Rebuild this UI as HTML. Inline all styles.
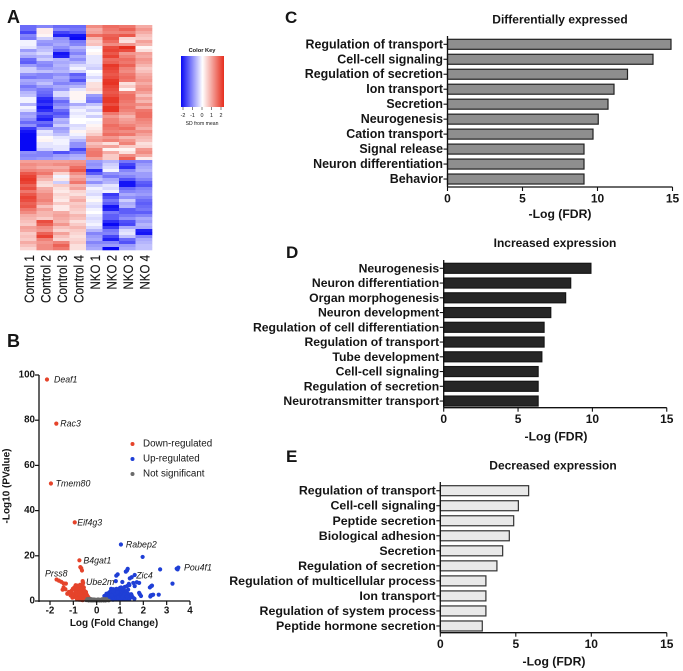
<!DOCTYPE html>
<html lang="en">
<head>
<meta charset="utf-8">
<title>Differential expression figure</title>
<style>
html,body{margin:0;padding:0;background:#fff;width:683px;height:671px;overflow:hidden}
svg{display:block;filter:blur(0.3px)}
text{font-family:"Liberation Sans",Arial,sans-serif;fill:#151515}
</style>
</head>
<body>
<svg id="fig" xmlns="http://www.w3.org/2000/svg" width="683" height="671" viewBox="0 0 683 671">
  <defs>
    <linearGradient id="keyGrad" x1="0" x2="1" y1="0" y2="0"></linearGradient>
  </defs>
  <rect width="683" height="671" fill="#fff"></rect>
  <text x="7" y="23" font-size="18" font-weight="700">A</text>
  <text x="7" y="347" font-size="18" font-weight="700">B</text>
  <text x="285" y="23" font-size="17" font-weight="700">C</text>
  <text x="286" y="258" font-size="17" font-weight="700">D</text>
  <text x="286" y="462" font-size="17" font-weight="700">E</text>
  <g id="heatmap"></g>
  <g id="colorKey"></g>
  <g id="volcano"></g>
  <g id="chartC"></g>
  <g id="chartD"></g>
  <g id="chartE"></g>
</svg>
<script>
// ---------- Panel A data ----------
const sampleNames = ["Control 1","Control 2","Control 3","Control 4","NKO 1","NKO 2","NKO 3","NKO 4"];
const control1 = [-1.2,-1.2,-1.5,-1.0,-1.1,-0.1,-0.1,-0.2,-0.8,-0.5,-0.7,-1.2,-1.3,-0.8,-0.4,-0.4,-0.9,-1.1,-0.7,-0.8,-1.1,-0.9,-0.6,
  -0.5,-0.1,-0.1,-0.6,-0.1,-0.3,-0.8,-0.7,-0.9,-1.2,-0.9,-1.6,-1.9,-2,-2,-2,-2,-2,-2,-0.9,-1,-0.9,
  0.9,1.1,1,1.2,1.6,1.8,1.9,1.8,1.5,1.7,1.3,1.6,1.8,1.7,1.5,1.6,1.3,1.1,0.8,0.7,0.6,0.5,0.9,0.8,0.5,0.6,0.5,0.8,0.6,0.4];
const control2 = [-1,0.2,0.2,0.1,-0.4,-0.8,-0.9,-0.6,-0.5,-0.3,-0.6,-0.4,-0.9,-1,-0.8,-0.5,-1,-1,-0.7,-0.5,-0.8,-1.1,-1.2,
  -1.3,-1.7,-1.8,-1.6,-1.9,-1.7,-1.3,-1.6,-1.8,-1.2,-1.4,-0.8,-0.2,-0.3,0.05,0.1,-0.2,-0.2,-0.4,-1.0,-1,-0.8,
  0.9,1,0.8,1.1,1.3,0.9,0.7,0.4,0.3,0.8,0.9,1.1,1.1,1.2,1,0.6,0.9,0.7,0.7,0.5,1.7,1.5,1.1,1,1.5,1.8,1.2,1,1.1,1.1];
const control3 = [-1.2,-1.0,-1.5,-1.8,-0.9,-0.8,-0.7,-0.9,-1.2,-1.9,-1.8,-0.6,-0.7,-0.6,-0.7,-0.6,-0.9,-0.7,-0.8,-1,-0.7,-0.8,-0.3,
  -0.3,-0.8,-1.2,-1,-0.8,-1.2,-1.4,-1.2,-0.6,-0.7,-0.4,-0.8,-0.7,-0.5,-0.2,-0.1,-0.1,-0.2,-0.2,-1.4,-0.8,-0.7,
  0.9,1.1,0.8,1,0.4,-0.1,0.2,-0.4,0.5,0.3,0.2,0.4,0.3,0.2,0.5,0.2,0.2,0.8,0.9,0.8,0.7,1,0.6,0.4,0.9,0.6,0.4,1.2,1.5,1.3];
const control4 = [-1.2,-1.1,-1.3,-1.9,-2,-1.1,-1,-0.6,-0.8,-1,-0.7,-0.9,-0.6,-0.3,-0.1,-0.4,-1.3,-1.1,-1.4,-0.9,-0.6,-0.2,0.1,
  0.1,0.1,-0.1,-0.7,-0.3,-0.1,-0.2,-0.1,0,0,-0.3,-0.2,0.1,-0.1,-0.3,-0.6,-0.9,-0.9,-1.5,-1.1,-0.7,-0.6,
  1,1.1,1.4,1.6,1.1,0.8,1,1.3,0.7,0.9,0.4,0.3,0.6,0.8,0.5,0.6,0.5,0.4,0.7,0.6,0.3,0.5,0.7,0.5,0.4,0.3,0.4,0.5,0.3,0.3];
const nko1 = [1.1,0.8,0.9,1.4,0.7,0.5,0.6,-0.1,0,0.1,-0.2,-0.2,-0.2,-0.3,-0.4,0,-0.1,-0.3,-0.1,0.3,0.3,0.4,0.2,
  -0.8,-1,-1.1,-0.5,-0.2,-0.4,-0.1,-0.4,0,-0.1,0.1,0.2,0.3,0.5,0.9,1,0.6,0.8,1.2,1.3,1.3,0.9,
  -0.8,-0.9,-0.8,-1.7,-1.3,-0.7,-0.5,-0.9,-0.4,-0.1,-0.2,-0.3,-0.1,0.05,-0.2,-0.3,-0.1,0,-0.2,-0.3,-0.2,-0.1,-0.3,-0.6,-1,-0.8,-0.7,-1,-0.8,-0.7];
const nko2 = [1.4,1.3,1.2,1.5,1.6,1.4,1.1,1.7,1.8,1.6,1.8,1.4,1.5,1.9,1.8,1.7,1.6,1.7,1.9,1.95,1.8,1.7,1.6,
  1.7,1.9,1.9,1.7,1.95,1.95,1.3,1,1.2,1.2,1.4,1.3,1.2,1.4,1,1.2,0.3,0.9,0.1,0.8,0.5,0.5,
  -0.6,-0.4,-0.3,-0.1,-0.9,-1.1,-0.7,-0.6,-0.2,-0.3,-0.1,-1.6,-1.4,-1.1,-1.3,-1.9,-1.8,-1.1,-1.3,-1.3,-1.7,-2,-1.6,-1.1,-1,-1.5,-1.8,-1.0,-0.8,-2];
const nko3 = [1.3,1.5,1.2,1.6,0.4,0.3,1,2,1.7,1,1.2,1.4,1.3,1.5,1.2,1.1,1.3,1.4,1.3,0.3,0.5,0.1,1.2,
  1.4,1.4,1.3,1.2,1.3,1.2,1,0.7,0.9,1,1.2,1.4,1.1,1.3,0.7,1,1.2,0.5,0.1,0.3,1.1,1.5,
  -1.1,-1.5,-1.7,-1,-0.8,-1,-1.4,-1.9,-1.9,-1.2,-1,-0.7,-0.9,-0.4,-0.7,-0.6,-1.3,-1.3,-1.1,-0.9,-1.4,-1.5,-0.7,-0.3,-0.2,-0.5,-1.2,-1.4,-0.8,-0.7];
const nko4 = [0.8,1,0.8,0.6,0.5,0.9,0.7,0.1,0.3,0.9,0.8,1,0.9,0.7,0.5,0.6,0.8,0.9,1,0.8,1,1.1,0.9,
  0.6,0.9,0.7,1.1,0.8,1.3,1.4,1.4,1.2,1.1,1,0.8,1.1,0.9,0.7,0.6,0.3,0.4,1,1.1,0.8,0.2,
  -1,-0.8,-0.7,-0.6,-0.8,-0.8,-1,-1.3,-1.4,-1,-0.9,-0.8,-1,-1.2,-1.3,-1.2,-1.1,-1.3,-1,-0.7,-0.8,-0.6,-0.7,-1.8,-1.9,-1,-0.7,-0.6,-0.5,-0.5];
const heatColumns = [control1,control2,control3,control4,nko1,nko2,nko3,nko4];
const keyTicks = [-2,-1,0,1,2];

// ---------- Panel B data ----------
const volcanoXTicks = [-2,-1,0,1,2,3,4];
const volcanoYTicks = [0,20,40,60,80,100];
const downFC = [-2.13,-1.73,-1.96,-0.94,-0.74,-0.7,-0.66,-0.63,-0.6,-0.58,-0.62,-1.72,-1.62,-1.52,-1.42,-1.32,-1.42,-1.46,-1.34,-1.2,-1.26,-1.12,-1.0,-0.96,-0.92,-0.86,-1.04,-0.98,-0.9,-0.84,-0.78,-0.72,-0.66,-0.6,-0.54,-0.48,-0.42,-0.36,-0.94,-0.88,-0.82,-0.76,-0.7,-0.64,-0.58,-0.52,-0.46,-0.4,-0.34,-0.86,-0.8,-0.74,-0.68,-0.62,-0.56,-0.5,-0.44,-0.38,-0.32,-0.78,-0.72,-0.66,-0.6,-0.54,-0.48,-0.42,-0.82,-0.74,-0.68,-0.56,-0.5,-0.7,-0.64,-0.55,-0.46,-0.75,-0.85,-0.65,-0.9,-0.6,-1.08,-1.14,-1.02,-0.5,-0.45,-0.42,-0.38,-0.6,-0.7,-0.8,-0.9,-0.66,-0.56,-0.52,-0.46];
const downP = [98,78.5,52,34.8,18,15,14.5,13.5,8.8,8,7,9.5,9,8.5,7.8,7.7,6,5,5.2,4,3.2,2.5,3,6,5,4.5,1.5,1.8,2,2.2,1.6,1.4,1.8,2,1.5,1.6,1.2,1,3.2,3.5,3,3.2,2.8,3,2.6,2.8,2.2,1.8,1.4,1.2,0.9,0.8,1,0.7,0.9,0.8,0.7,0.6,0.8,4.2,4.5,4,4.4,3.8,3.5,2.6,5.5,5.8,5,5.2,4.2,6.2,6.5,6,3,0.6,0.9,0.5,4,0.4,4.5,3.6,5.4,3.4,3.2,2.4,2,7.4,7.2,6.8,7,5.4,4.8,4.4,4];
const upFC = [1.04,1.97,3.5,3.47,3.43,2.72,3.25,1.63,0.84,0.9,1.25,1.3,1.33,1.5,1.42,1.72,1.57,1.63,1.82,0.82,1.1,1.38,1.0,1.9,1.85,1.82,2.28,2.33,2.37,2.3,2.32,2.37,2.42,2.66,0.35,0.4,0.45,0.5,0.55,0.6,0.65,0.7,0.75,0.8,0.85,0.9,0.95,1.0,1.05,1.1,1.15,1.2,1.25,1.3,1.35,1.4,0.38,0.44,0.5,0.56,0.62,0.68,0.74,0.8,0.86,0.92,0.98,1.04,1.1,1.16,1.22,1.28,1.34,0.48,0.55,0.6,0.66,0.72,0.78,0.84,0.9,0.96,1.02,1.08,1.14,1.2,1.26,1.32,0.7,0.76,0.82,0.94,1.0,1.12,1.18,1.3,1.42,1.5,1.55,1.62,0.33,0.42,0.52,0.58,0.64,0.72,0.78,0.88,0.98,1.06,1.18,1.24,1.36,1.44,0.62,0.7,0.76,0.86,0.92,1.02,1.12,1.22,1.3,1.4,1.48];
const upP = [25,19.5,14.8,14,14.3,14,7.7,11.5,11.2,11.8,13,13.5,14.2,10.5,10,8.3,8,6.6,8,8.8,8.4,7.6,5.5,2.2,3,3.6,6,6.5,6.8,2,2.5,2.6,2.8,2.8,1,1.5,2,2.4,2.8,3.2,3.6,4,4.6,5,5.4,4.8,4.2,5.8,6,5.2,4.6,6.2,4.4,6.6,5,7,0.6,0.8,1,1.4,1.8,2,2.4,2.6,3,3.2,3.6,3.8,3.4,3,3.6,4,3.2,0.5,0.6,0.8,1.2,1.4,1.6,1.8,2,2.2,2,2.6,2.4,2.2,2.6,2.2,0.6,0.8,1,1,1.2,0.9,1,1.1,1.5,2.4,1.6,1,2.2,3.2,3.6,4.2,2.6,5.2,3.4,3.8,1.4,1.6,2.8,1.4,3,2,5.4,4.4,1,1.2,1.4,0.8,1.8,0.9,1.8,0.8,3];
const nsFC = [-0.44,-0.38,-0.32,-0.26,-0.2,-0.14,-0.08,-0.02,0.04,0.1,0.16,0.22,0.28,0.34,0.4,0.46,0.52,-0.4,-0.3,-0.22,-0.12,-0.04,0.06,0.14,0.24,0.32,0.42,-0.34,-0.24,-0.16,-0.06,0.02,0.12,0.2,0.3,0.38];
const nsP = [0.3,0.5,0.6,0.4,0.5,0.3,0.4,0.2,0.3,0.4,0.3,0.5,0.4,0.6,0.4,0.3,0.2,1,1.1,0.9,0.8,0.7,0.8,0.7,0.9,1,0.9,0.1,0.1,0.1,0.1,0.1,0.1,0.1,0.1,0.1];
const legendNames = ["Down-regulated","Up-regulated","Not significant"];

// ---------- Panels C, D, E data ----------
const termsC = ["Regulation of transport","Cell-cell signaling","Regulation of secretion","Ion transport","Secretion","Neurogenesis","Cation transport","Signal release","Neuron differentiation","Behavior"];
const valuesC = [14.9,13.7,12,11.1,10.7,10.05,9.7,9.1,9.1,9.1];
const termsD = ["Neurogenesis","Neuron differentiation","Organ morphogenesis","Neuron development","Regulation of cell differentiation","Regulation of transport","Tube development","Cell-cell signaling","Regulation of secretion","Neurotransmitter transport"];
const valuesD = [9.9,8.54,8.2,7.2,6.75,6.75,6.6,6.35,6.35,6.35];
const termsE = ["Regulation of transport","Cell-cell signaling","Peptide secretion","Biological adhesion","Secretion","Regulation of secretion","Regulation of multicellular process","Ion transport","Regulation of system process","Peptide hormone secretion"];
const valuesE = [5.85,5.17,4.86,4.57,4.13,3.75,3.02,3.02,3.02,2.78];
const fdrTicks = [0,5,10,15];

// ---------- Drawing helpers ----------
const NS = "http://www.w3.org/2000/svg";
function make(parent, tag, attrs, text) {
  const el = document.createElementNS(NS, tag);
  for (const k in attrs) el.setAttribute(k, attrs[k]);
  if (text !== undefined) el.textContent = text;
  parent.appendChild(el);
  return el;
}
function slug(s) { return String(s).toLowerCase().replace(/[^a-z0-9]+/g, "-").replace(/^-|-$/g, ""); }
function heatColor(v) {
  const t = Math.min(1, Math.abs(v) / 2);
  const end = v < 0 ? [8, 8, 245] : [230, 46, 30];
  const c = end.map(e => Math.round(255 + (e - 255) * t));
  return "rgb(" + c.join(",") + ")";
}

// ---------- Panel A ----------
(function drawHeatmap() {
  const g = document.getElementById("heatmap");
  const left = 20, right = 152, top = 25, bottom = 250;
  const nCols = heatColumns.length;
  const nRows = Math.max.apply(null, heatColumns.map(c => c.length));
  const colX = i => left + (right - left) * i / nCols;
  const rowY = r => top + (bottom - top) * r / nRows;
  heatColumns.forEach((col, c) => {
    col.forEach((v, r) => {
      const cell = make(g, "rect", {
        x: colX(c), y: rowY(r), width: (right - left) / nCols + 0.3, height: (bottom - top) / nRows + 0.3,
        fill: heatColor(v)
      });
      
      
    });
    const name = sampleNames[c];
    const cx = colX(c) + (right - left) / nCols / 2;
    const label = make(g, "text", {
      x: 0, y: 0, transform: "translate(" + (cx + 1) + " 255) rotate(-90)",
      "text-anchor": "end", "dominant-baseline": "central",
      "font-size": 13.5,
      stroke: "#151515", "stroke-width": 0.15,
      textLength: name.indexOf("Control") === 0 ? 48 : 34.5,
      lengthAdjust: "spacingAndGlyphs"
    }, name);
    
    
  });
})();

(function drawKey() {
  const g = document.getElementById("colorKey");
  const grad = document.getElementById("keyGrad");
  const left = 181, right = 224, top = 56, bottom = 107;
  const keyX = v => 183 + (v + 2) * (221 - 183) / 4;
  for (let i = 0; i <= 8; i++) {
    const v = -2 + i * 0.5;
    make(grad, "stop", { offset: (i / 8), "stop-color": heatColor(v) });
  }
  const title = make(g, "text", { x: 202, y: 51, "text-anchor": "middle", "dominant-baseline": "central", "font-size": 5.7, "font-weight": 700 }, "Color Key");
  
  
  const bar = make(g, "rect", { x: left, y: top, width: right - left, height: bottom - top, fill: "url(#keyGrad)" });
  
  
  keyTicks.forEach(t => {
    const tick = make(g, "line", { x1: keyX(t), x2: keyX(t), y1: bottom, y2: bottom + 3, stroke: "#333", "stroke-width": 0.6 });
    
    
    const lab = make(g, "text", { x: keyX(t), y: 116, "text-anchor": "middle", "dominant-baseline": "central", "font-size": 5.4 }, t);
    
    
  });
  const sd = make(g, "text", { x: 202, y: 124, "text-anchor": "middle", "dominant-baseline": "central", "font-size": 5.1 }, "SD from mean");
  
  
})();

// ---------- Panel B ----------
(function drawVolcano() {
  const g = document.getElementById("volcano");
  const X = v => 96.67 + v * 23.33;
  const Y = v => 601 - v * 2.26;
  const axisLeft = 39, axisRight = X(4), axisTop = Y(100), axisBottom = Y(0);
  function dots(xs, ys, color, name, r) {
    xs.forEach((x, i) => {
      const d = make(g, "circle", { cx: X(x), cy: Y(ys[i]), r: r, fill: color });
      
      
    });
  }
  dots(downFC, downP, "#e5432a", "down-regulated-point", 2.1);
  dots(upFC, upP, "#1f3fd6", "up-regulated-point", 2.1);
  dots(nsFC, nsP, "#6a6a6a", "not-significant-point", 1.8);

  const yLine = make(g, "line", { x1: axisLeft, x2: axisLeft, y1: axisTop, y2: axisBottom + 1, stroke: "#111", "stroke-width": 1.3 });
  
  
  const xLine = make(g, "line", { x1: axisLeft, x2: axisRight, y1: axisBottom, y2: axisBottom, stroke: "#111", "stroke-width": 1.3 });
  
  
  volcanoXTicks.forEach(t => {
    const tk = make(g, "line", { x1: X(t), x2: X(t), y1: axisBottom, y2: axisBottom + 4, stroke: "#111", "stroke-width": 1.2 });
    
    
    const lb = make(g, "text", { x: X(t), y: 611, "text-anchor": "middle", "dominant-baseline": "central", "font-size": 9.8, "font-weight": 700 }, t);
    
    
  });
  volcanoYTicks.forEach(t => {
    const tk = make(g, "line", { x1: axisLeft - 4, x2: axisLeft, y1: Y(t), y2: Y(t), stroke: "#111", "stroke-width": 1.2 });
    
    
    const lb = make(g, "text", { x: 35, y: Y(t), "text-anchor": "end", "dominant-baseline": "central", "font-size": 9.8, "font-weight": 700 }, t);
    
    
  });
  const xt = make(g, "text", { x: 114, y: 623.5, "text-anchor": "middle", "dominant-baseline": "central", "font-size": 10, "font-weight": 700 }, "Log (Fold Change)");
  
  
  const yt = make(g, "text", { x: 0, y: 0, transform: "translate(7 486) rotate(-90)", "text-anchor": "middle", "dominant-baseline": "central", "font-size": 10, "font-weight": 700 }, "-Log10 (PValue)");
  
  

  function gene(name, fc, p, dx, dy) {
    const t = make(g, "text", { x: X(fc) + dx, y: Y(p) + dy, "dominant-baseline": "central", "font-size": 8.8, "font-style": "italic", fill: "#222" }, name);
    
    
  }
  gene("Deaf1", -2.13, 98, 7, 0);
  gene("Rac3", -1.73, 78.5, 4, 0);
  gene("Tmem80", -1.96, 52, 4.7, 0);
  gene("Eif4g3", -0.94, 34.8, 2.5, 0);
  gene("B4gat1", -0.74, 18, 4, 0);
  gene("Rabep2", 1.04, 25, 5, 0);
  gene("Pou4f1", 3.5, 14.8, 5.7, 0);
  gene("Zic4", 1.63, 11.5, 1.5, 0.7);
  gene("Ube2m", -0.6, 8.8, 3.3, 0.7);
  gene("Prss8", -1.72, 9.5, -11.5, -6);

  const legendColors = ["#e5432a", "#1f3fd6", "#6a6a6a"];
  legendNames.forEach((n, i) => {
    const ly = 444 + i * 15;
    const dot = make(g, "circle", { cx: 132.5, cy: ly, r: 2, fill: legendColors[i] });
    
    
    const txt = make(g, "text", { x: 143, y: ly, "dominant-baseline": "central", "font-size": 9.8, fill: "#333" }, n);
    
    
  });
})();

// ---------- Panels C, D, E ----------
function drawBars(id, terms, values, o) {
  const g = document.getElementById(id);
  const X = v => o.x0 + v * o.unit;
  const Y = i => o.y0 + i * o.step;
  const title = make(g, "text", { x: o.titleX, y: o.titleY, "text-anchor": "middle", "dominant-baseline": "central", "font-size": 12, "font-weight": 700 }, o.title);
  
  
  terms.forEach((term, i) => {
    const bar = make(g, "rect", { x: X(0), y: Y(i) - 5, width: values[i] * o.unit, height: 10, fill: o.fill, stroke: o.stroke, "stroke-width": 1.2 });
    
    
    const tk = make(g, "line", { x1: X(0) - 4, x2: X(0), y1: Y(i), y2: Y(i), stroke: "#111", "stroke-width": 1.1 });
    
    
    const lb = make(g, "text", { x: X(0) - 4.5, y: Y(i), "text-anchor": "end", "dominant-baseline": "central", "font-size": o.labelSize, "font-weight": 700 }, term);
    
    
  });
  const yLine = make(g, "line", { x1: X(0), x2: X(0), y1: o.top, y2: o.bottom, stroke: "#111", "stroke-width": 1.3 });
  
  
  const xLine = make(g, "line", { x1: X(0), x2: X(15), y1: o.bottom, y2: o.bottom, stroke: "#111", "stroke-width": 1.3 });
  
  
  fdrTicks.forEach(t => {
    const tk = make(g, "line", { x1: X(t), x2: X(t), y1: o.bottom, y2: o.bottom + 4, stroke: "#111", "stroke-width": 1.1 });
    
    
    const lb = make(g, "text", { x: X(t), y: o.bottom + 11.5, "text-anchor": "middle", "dominant-baseline": "central", "font-size": 12, "font-weight": 700 }, t);
    
    
  });
  const xt = make(g, "text", { x: o.xTitleX, y: o.xTitleY, "text-anchor": "middle", "dominant-baseline": "central", "font-size": 12.2, "font-weight": 700 }, "-Log (FDR)");
  
  
}
drawBars("chartC", termsC, valuesC, { title: "Differentially expressed", titleX: 560, titleY: 19.5, x0: 447.5, unit: 15, y0: 44.3, step: 14.97, top: 36, bottom: 187, fill: "#8e8e8e", stroke: "#222", labelSize: 12.45, xTitleX: 560, xTitleY: 214 });
drawBars("chartD", termsD, valuesD, { title: "Increased expression", titleX: 555, titleY: 243, x0: 443.7, unit: 14.87, y0: 268.3, step: 14.75, top: 260, bottom: 407.7, fill: "#262626", stroke: "#161616", labelSize: 12.2, xTitleX: 556, xTitleY: 436.5 });
drawBars("chartE", termsE, valuesE, { title: "Decreased expression", titleX: 553, titleY: 465.5, x0: 440.3, unit: 15.1, y0: 490.7, step: 15.03, top: 482, bottom: 632.7, fill: "#e9e9e9", stroke: "#333", labelSize: 12.4, xTitleX: 554, xTitleY: 661.5 });
</script>
</body>
</html>
